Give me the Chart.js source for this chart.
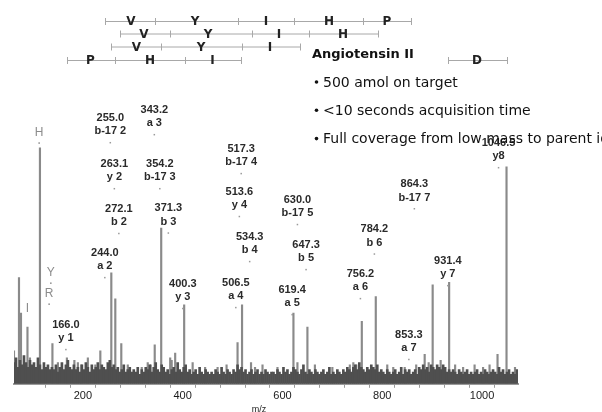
<!DOCTYPE html>
<html>
<head>
<meta charset="utf-8">
<script src="https://cdn.jsdelivr.net/npm/chart.js@4.4.1/dist/chart.umd.min.js"></script>
<style>
  html, body { margin: 0; padding: 0; background: #fff; }
  #wrap { width: 602px; height: 412px; }
</style>
</head>
<body>
<div id="wrap"><canvas id="spectrum" width="602" height="412"></canvas></div>
<script>
// Angiotensin II MS/MS spectrum

// fragment peaks (m/z, relative intensity, H = 100)
var peakMz  = [62, 72, 76, 89, 94, 114, 139, 150, 168, 183, 190, 197, 210, 225, 235, 257, 265, 277, 290,
               318, 330, 336, 344, 357, 375, 378, 385, 403, 420, 445, 470, 488,
               510, 519, 537, 545, 560, 590, 622, 630, 650, 665, 700, 735, 742, 748, 759, 787,
               810, 822, 845, 868, 885, 893, 901, 917, 934, 946, 962, 985, 1002, 1015, 1031, 1049, 1066];
var peakInt = [14, 45, 30, 24, 11, 100, 17, 9, 11, 10, 9, 8, 11, 8, 14, 47, 36, 17, 8,
               7, 9, 8, 16.5, 66, 11, 10, 13, 33.5, 9, 7, 7, 8,
               17.5, 33.5, 9, 7, 8, 7, 30, 9, 24, 8, 7, 8, 9, 8, 26.5, 37,
               8, 7, 7, 8, 12.5, 9, 42, 10, 43, 8, 7, 8, 7, 8, 12.5, 92, 7];

// noise floor, one value every 4 m/z from 62
var noiseStart = 62;
var noiseStep = 4;
var noiseInt = [
  9,11,7,10,8,12,9,7,10,8,
  9,7,11,8,6,9,7,8,6,7,
  6,8,5,7,9,6,8,10,7,6,
  8,6,7,5,8,6,9,7,5,8,
  6,7,9,6,8,7,6,9,10,7,
  8,6,7,5,6,8,5,6,7,5,
  6,5,7,4,6,5,7,6,8,5,
  7,9,6,5,8,7,5,6,4,6,
  7,5,9,6,5,7,8,5,6,4,
  5,6,4,7,5,4,6,5,4,5,
  4,6,5,4,7,5,4,6,5,4,
  6,5,8,6,7,5,6,4,5,6,
  4,5,6,4,5,4,6,5,4,5,
  5,4,6,5,4,7,5,6,4,5,
  7,6,5,4,6,8,5,4,6,5,
  4,6,5,4,5,6,4,5,7,4,
  5,4,6,5,4,6,5,7,6,5,
  7,8,6,9,7,6,5,7,6,8,
  7,6,8,5,6,5,4,6,5,4,
  5,6,4,5,7,4,6,5,6,4,
  5,6,4,7,6,8,6,7,5,8,
  7,6,8,7,6,8,7,5,6,5,
  6,5,4,6,5,4,5,6,4,5,
  4,5,6,4,5,4,6,5,4,5,
  6,5,4,7,5,6,4,5,6,4,
  5,4,6
];

// fragment ion annotations
var annMz    = [255.0, 343.2, 263.1, 354.2, 272.1, 371.3, 244.0, 166.0, 400.3,
                517.3, 513.6, 534.3, 506.5, 630.0, 647.3, 619.4,
                756.2, 784.2, 864.3, 931.4, 853.3, 1033];
var annMass  = ['255.0', '343.2', '263.1', '354.2', '272.1', '371.3', '244.0', '166.0', '400.3',
                '517.3', '513.6', '534.3', '506.5', '630.0', '647.3', '619.4',
                '756.2', '784.2', '864.3', '931.4', '853.3', '1046.5'];
var annIon   = ['b-17 2', 'a 3', 'y 2', 'b-17 3', 'b 2', 'b 3', 'a 2', 'y 1', 'y 3',
                'b-17 4', 'y 4', 'b 4', 'a 4', 'b-17 5', 'b 5', 'a 5',
                'a 6', 'b 6', 'b-17 7', 'y 7', 'a 7', 'y8'];
var annLevel = [112.7, 116.1, 93.2, 93.2, 74.2, 74.4, 55.5, 25, 42.4,
                99.6, 81.4, 62.3, 42.8, 78, 58.9, 39.8,
                46.6, 65.5, 84.7, 52.1, 20.8, 102.1];

// immonium ions
var immMz    = [112.4, 135.8, 132.4, 89];
var immText  = ['H', 'Y', 'R', 'I'];
var immLevel = [106.4, 47, 38.1, 31.8];

var xTicksShown = [200, 400, 600, 800, 1000];

var noisePoints = noiseInt.map(function (v, i) { return { x: noiseStart + i * noiseStep, y: v }; });
var peakPoints = peakMz.map(function (m, i) { return { x: m, y: peakInt[i] }; });

var labelsPlugin = {
  id: 'spectrumLabels',
  afterDraw: function (chart) {
    var ctx = chart.ctx;
    var xs = chart.scales.x, ys = chart.scales.y;
    ctx.save();
    ctx.textAlign = 'center';
    ctx.textBaseline = 'middle';

    // ion labels
    ctx.font = 'bold 11px "Liberation Sans", Arial, sans-serif';
    for (var i = 0; i < annMz.length; i++) {
      var px = xs.getPixelForValue(annMz[i]);
      var py = ys.getPixelForValue(annLevel[i]);
      ctx.fillStyle = '#2a2a2a';
      ctx.fillText(annMass[i], px, py);
      ctx.fillText(annIon[i], px, py + 13.5);
      ctx.fillStyle = '#9a9a9a';
      ctx.fillRect(px - 0.75, py + 24, 1.5, 1.5);
    }

    ctx.font = '12px "Liberation Sans", Arial, sans-serif';
    for (var j = 0; j < immMz.length; j++) {
      var qx = xs.getPixelForValue(immMz[j]);
      var qy = ys.getPixelForValue(immLevel[j]);
      ctx.fillStyle = '#8c8c8c';
      ctx.fillText(immText[j], qx, qy);
      if (immText[j] !== 'I') ctx.fillRect(qx - 0.75, qy + 9.5, 1.5, 1.5);
    }

    // sequence ladders
    var rows = [
      { y: 21, ticks: [105, 155, 238, 294, 363, 411], res: [['V', 131], ['Y', 195], ['I', 266], ['H', 329], ['P', 387]] },
      { y: 33.5, ticks: [120, 170, 252, 309, 378], res: [['V', 144], ['Y', 208], ['I', 279], ['H', 343]] },
      { y: 46.5, ticks: [111, 161, 242, 300], res: [['V', 136.5], ['Y', 201], ['I', 270]] },
      { y: 60, ticks: [67, 115, 185, 241], res: [['P', 90.5], ['H', 150], ['I', 212.5]] },
      { y: 60, ticks: [448, 507], res: [['D', 477]] }
    ];
    ctx.lineWidth = 1;
    rows.forEach(function (r) {
      ctx.strokeStyle = '#a8a8a8';
      ctx.beginPath();
      ctx.moveTo(r.ticks[0], r.y + 0.5);
      ctx.lineTo(r.ticks[r.ticks.length - 1], r.y + 0.5);
      r.ticks.forEach(function (t) {
        ctx.moveTo(t + 0.5, r.y - 3);
        ctx.lineTo(t + 0.5, r.y + 4);
      });
      ctx.stroke();
      ctx.font = 'bold 12px "DejaVu Sans", sans-serif';
      ctx.fillStyle = '#222';
      r.res.forEach(function (p) { ctx.fillText(p[0], p[1], r.y + 1); });
    });

    // text block
    ctx.textAlign = 'left';
    ctx.fillStyle = '#111';
    ctx.font = 'bold 13px "DejaVu Sans", sans-serif';
    ctx.fillText('Angiotensin II', 312, 55);
    ['500 amol on target', '<10 seconds acquisition time', 'Full coverage from low mass to parent ion']
      .forEach(function (s, k) {
        var by = 83 + k * 28.3;
        ctx.beginPath();
        ctx.arc(316.5, by - 1, 1.8, 0, Math.PI * 2);
        ctx.fill();
        ctx.font = '14px "DejaVu Sans", sans-serif';
        ctx.fillText(s, 323, by);
      });

    // axis title
    ctx.textAlign = 'center';
    ctx.font = '9px "Liberation Sans", Arial, sans-serif';
    ctx.fillStyle = '#222';
    ctx.fillText('m/z', 259, 410);
    ctx.restore();
  }
};

new Chart(document.getElementById('spectrum'), {
  type: 'bar',
  data: {
    datasets: [
      { label: 'noise', data: noisePoints, backgroundColor: '#4f4f4f', barThickness: 2, grouped: false, order: 0 },
      { label: 'peaks', data: peakPoints, backgroundColor: '#8a8a8a', barThickness: 1.5, grouped: false, order: 1 }
    ]
  },
  options: {
    responsive: false,
    animation: false,
    layout: { padding: { left: 14, right: 84, top: 0, bottom: 7 } },
    plugins: { legend: { display: false }, tooltip: { enabled: false } },
    scales: {
      x: {
        type: 'linear',
        min: 62,
        max: 1072,
        offset: false,
        border: { color: '#9a9a9a', width: 2 },
        grid: { drawOnChartArea: false, drawTicks: true, tickLength: 4, color: '#9a9a9a' },
        afterBuildTicks: function (s) {
          s.ticks = s.ticks.filter(function (t) { return t.value % 50 === 0; });
        },
        ticks: {
          stepSize: 50,
          autoSkip: false,
          maxRotation: 0,
          padding: 2,
          color: '#1a1a1a',
          font: { family: '"Liberation Sans", Arial, sans-serif', size: 11 },
          callback: function (v) { return xTicksShown.indexOf(v) >= 0 ? String(v) : ''; }
        }
      },
      y: { display: false, min: 0, max: 162.7 }
    }
  },
  plugins: [labelsPlugin]
});
</script>
</body>
</html>
